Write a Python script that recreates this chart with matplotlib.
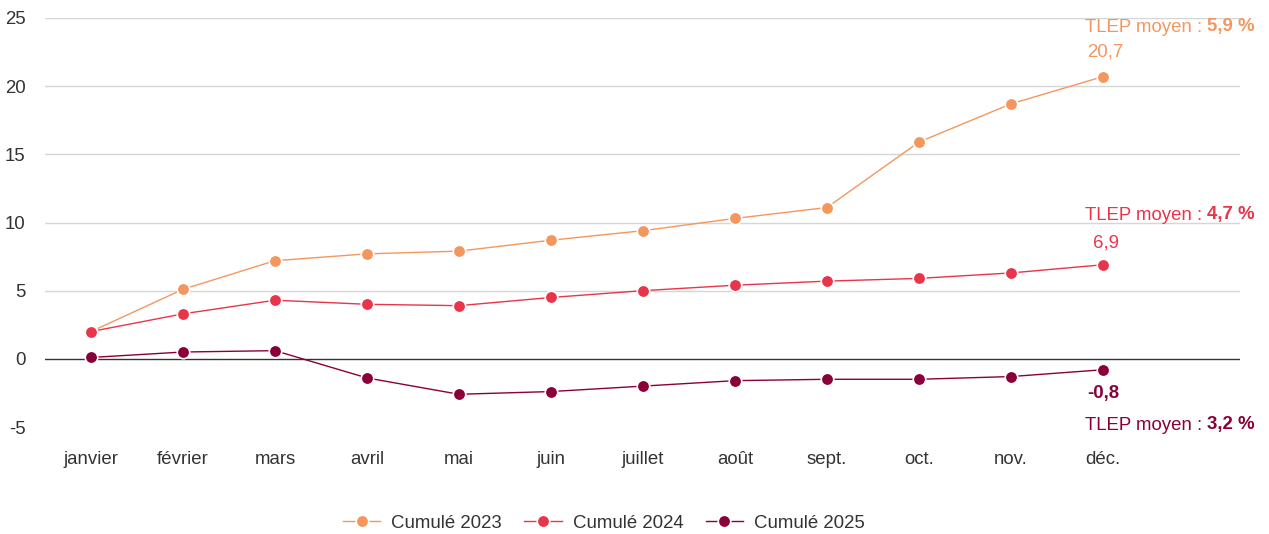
import matplotlib
matplotlib.use("Agg")
import matplotlib.pyplot as plt

plt.rcParams["font.family"] = ["Liberation Sans", "DejaVu Sans"]

months = ["janvier", "février", "mars", "avril", "mai", "juin", "juillet",
          "août", "sept.", "oct.", "nov.", "déc."]
cumul_2023 = [2.0, 5.1, 7.2, 7.7, 7.9, 8.7, 9.4, 10.3, 11.1, 15.9, 18.7, 20.7]
cumul_2024 = [2.0, 3.3, 4.3, 4.0, 3.9, 4.5, 5.0, 5.4, 5.7, 5.9, 6.3, 6.9]
cumul_2025 = [0.1, 0.5, 0.6, -1.4, -2.6, -2.4, -2.0, -1.6, -1.5, -1.5, -1.3, -0.8]
tlep_moyen = ["5,9 %", "4,7 %", "3,2 %"]
series_names = ["Cumulé 2023", "Cumulé 2024", "Cumulé 2025"]
colors = ["#F4975F", "#E8354A", "#8A0039"]
FS = 13.4

fig = plt.figure(figsize=(12.69, 5.34), dpi=100)
ax = fig.add_axes([45 / 1269, 1 - 427 / 534, 1195 / 1269, 409 / 534])

x = list(range(len(months)))
for values, name, color in zip([cumul_2023, cumul_2024, cumul_2025], series_names, colors):
    ax.plot(x, values, color=color, lw=1.0, marker="o", markersize=9,
            markeredgecolor="white", markeredgewidth=1.2, label=name, zorder=3)

ax.set_xlim(-0.5, 12.49)
ax.set_ylim(-5, 25)
ax.set_yticks([-5, 0, 5, 10, 15, 20, 25])
ax.set_yticklabels(["-5", "0", "5", "10", "15", "20", "25"])
ax.set_xticks(x)
ax.set_xticklabels(months)
for y in [5, 10, 15, 20, 25]:
    ax.axhline(y, color="#d6d6d6", lw=1, zorder=1)
ax.axhline(0, color="#333333", lw=1, zorder=2)

for side in ["top", "right", "left", "bottom"]:
    ax.spines[side].set_visible(False)
ax.tick_params(axis="both", length=0, labelsize=FS, colors="#333333")
ax.tick_params(axis="y", pad=14)
ax.tick_params(axis="x", pad=17)


def tlep_label(ypix, value, color):
    t = fig.text(1085 / 1269, 1 - ypix / 534, "TLEP moyen : ", color=color,
                 fontsize=FS, va="center", ha="left")
    ax.annotate(value, xy=(1, 0), xycoords=t, va="bottom", ha="left",
                color=color, fontsize=FS, fontweight="bold")


last = len(months) - 1
tlep_label(27, tlep_moyen[0], colors[0])
ax.annotate("20,7", xy=(last, cumul_2023[-1]), xytext=(2, 18), textcoords="offset points",
            ha="center", va="center", color=colors[0], fontsize=FS)
tlep_label(215, tlep_moyen[1], colors[1])
ax.annotate("6,9", xy=(last, cumul_2024[-1]), xytext=(2, 16), textcoords="offset points",
            ha="center", va="center", color=colors[1], fontsize=FS)
ax.annotate("-0,8", xy=(last, cumul_2025[-1]), xytext=(0, -17), textcoords="offset points",
            ha="center", va="center", color=colors[2], fontsize=FS, fontweight="bold")
tlep_label(425, tlep_moyen[2], colors[2])

fig.legend(loc="center", bbox_to_anchor=(604 / 1269, 1 - 523 / 534), ncol=3,
           frameon=False, fontsize=FS, handlelength=2.0, columnspacing=1.2,
           handletextpad=0.6, labelcolor="#333333")

fig.savefig("out.png", dpi=100)
